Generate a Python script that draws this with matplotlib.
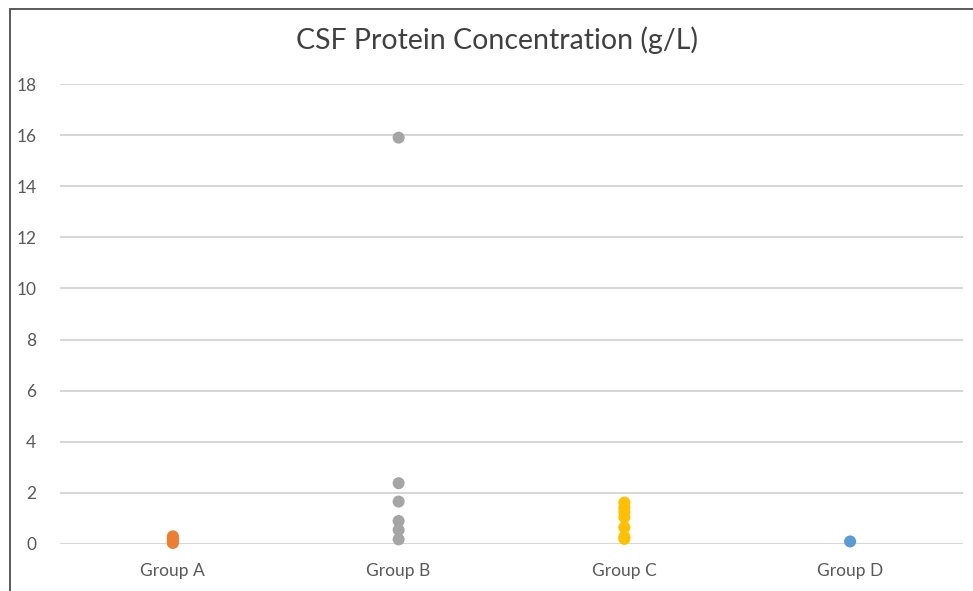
import matplotlib
matplotlib.use("Agg")
import matplotlib.pyplot as plt
from matplotlib.patches import Rectangle

plt.rcParams['font.family'] = ['Lato', 'DejaVu Sans']

groups = ["Group A", "Group B", "Group C", "Group D"]
group_a = [0.30, 0.22, 0.15, 0.08, 0.04]
group_b = [15.9, 2.38, 1.66, 0.90, 0.55, 0.18]
group_c = [1.62, 1.42, 1.25, 1.05, 0.65, 0.28, 0.20]
group_d = [0.10]
values = [group_a, group_b, group_c, group_d]
colors = ["#ED7D31", "#A5A5A5", "#FFC000", "#5B9BD5"]
y_ticks = [0, 2, 4, 6, 8, 10, 12, 14, 16, 18]

W, H = 973, 591
fig = plt.figure(figsize=(W / 100, H / 100), dpi=100)
ax = fig.add_axes([60 / W, (H - 544) / H, (963 - 60) / W, (544 - 84) / H])

for i, (vals, c) in enumerate(zip(values, colors)):
    ax.scatter([i] * len(vals), vals, s=75, color=c, edgecolors='none',
               zorder=3, clip_on=False)

ax.set_xlim(-0.5, 3.5)
ax.set_ylim(0, 18)
ax.set_xticks(range(len(groups)))
ax.set_xticklabels(groups)
ax.set_yticks(y_ticks)
ax.grid(axis='y', color='#d0d0d0', linewidth=1.2)
ax.set_axisbelow(True)
for s in ax.spines.values():
    s.set_visible(False)
ax.tick_params(axis='both', length=0, colors='#595959', labelsize=12.5)
ax.tick_params(axis='y', pad=17)
ax.tick_params(axis='x', pad=14)

fig.text(497 / W, 1 - 40 / H, "CSF Protein Concentration (g/L)", ha='center',
         va='center', fontsize=20.5, color='#404040')

# outer chart border (only left and top visible in the crop)
fig.patches.append(Rectangle((9.5 / W, -0.1), 2, 1 - 8.5 / H + 0.1,
                             transform=fig.transFigure, fill=False,
                             edgecolor='#4d4d4d', linewidth=1.3))

fig.savefig("out.png", dpi=100)
